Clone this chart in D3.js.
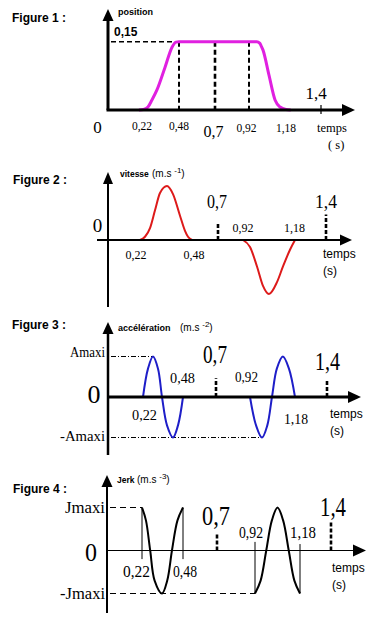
<!DOCTYPE html>
<html><head><meta charset="utf-8">
<script src="https://cdn.jsdelivr.net/npm/d3@7"></script>
<style>html,body{margin:0;padding:0;background:#fff;} svg{display:block;}</style>
</head><body><svg id="c" width="384" height="628"></svg>
<script>
// ---------- DATA ----------
const tickTimes  = [0, 0.22, 0.48, 0.7, 0.92, 1.18, 1.4];
const tickLabels = ["0", "0,22", "0,48", "0,7", "0,92", "1,18", "1,4"];
const figureTitles = ["Figure 1 :", "Figure 2 :", "Figure 3 :", "Figure 4 :"];
const axisNames = ["position", "vitesse", "accélération", "Jerk"];
const axisExponents = [null, "-1", "-2", "-3"];
const levelLabelsPos = ["0,15"];
const levelLabelsAcc = ["Amaxi", "-Amaxi"];
const levelLabelsJerk = ["Jmaxi", "-Jmaxi"];
const timeUnitLabels = ["temps", "(s)"];

// position (m)
const positionT = [0.20,0.23,0.262,0.29,0.325,0.382,0.431,0.459,0.48,0.7,0.92,0.975,0.995,1.005,1.018,1.06,1.103,1.138,1.18,1.21];
const positionV = [0,0.001,0.0066,0.022,0.044,0.094,0.138,0.149,0.15,0.15,0.15,0.15,0.147,0.141,0.132,0.077,0.022,0.0066,0.001,0];
// velocity (normalised to its maximum)
const velocityT = [0.22,0.245,0.27,0.295,0.32,0.355,0.385,0.42,0.445,0.46,0.48, 0.7, 0.92,0.955,0.99,1.02,1.05,1.09,1.12,1.155,1.18];
const velocityV = [0,0.06,0.22,0.55,0.87,1,0.85,0.45,0.17,0.06,0, null, 0,-0.13,-0.49,-0.85,-1,-0.78,-0.49,-0.18,0];
// acceleration (normalised to Amaxi)
const accelT = [0.22,0.2525,0.285,0.3175,0.3435,0.376,0.415,0.4475,0.48, 0.7, 0.92,0.955,0.989,1.02,1.047,1.075,1.11,1.145,1.18];
const accelV = [0,0.7,1,0.7,0,-0.7,-1,-0.7,0, null, 0,-0.7,-1,-0.7,0,0.7,1,0.7,0];
// jerk (normalised to Jmaxi)
const jerkT = [0.22,0.245,0.272,0.30,0.347,0.38,0.41,0.445,0.48, 0.7, 0.92,0.9525,0.985,1.0175,1.05,1.0825,1.115,1.1475,1.18];
const jerkV = [1,0.7,0,-0.7,-1,-0.7,0,0.7,1, null, -1,-0.7,0,0.7,1,0.7,0,-0.7,-1];
// jerk discontinuities (t, from, to)
const jerkStepT = [0.22, 0.48, 0.92, 1.18];
const jerkStepFrom = [1, 1, 0.2, 0.15];
const jerkStepTo = [-0.2, -0.2, -1, -1];

// ---------- HELPERS ----------
const SERIF = "'Liberation Serif','Times New Roman',serif";
const SANS = "'Liberation Sans',Arial,sans-serif";
const svg = d3.select("#c");
const zip = (T, V) => T.map((t, i) => ({t, v: V[i]}));

function txt(g, s, x, y, o = {}) {
  const t = g.append("text").attr("x", x).attr("y", y).text(s)
    .attr("font-family", o.family || SERIF).attr("font-size", o.size || 12)
    .attr("font-weight", o.weight || "normal").attr("fill", "#000")
    .attr("text-anchor", o.anchor || "start");
  if (o.width) t.attr("textLength", o.width).attr("lengthAdjust", "spacingAndGlyphs");
  return t;
}
function arrowUp(g, x, yTip, hw, h) {
  g.append("path").attr("d", `M${x},${yTip}L${x - hw},${yTip + h}L${x + hw},${yTip + h}Z`).attr("fill", "#000");
}
function arrowRight(g, xTip, y, hh, w) {
  g.append("path").attr("d", `M${xTip},${y}L${xTip - w},${y - hh}L${xTip - w},${y + hh}Z`).attr("fill", "#000");
}
function seg(g, x1, y1, x2, y2, w, dash) {
  const l = g.append("line").attr("x1", x1).attr("y1", y1).attr("x2", x2).attr("y2", y2)
    .attr("stroke", "#000").attr("stroke-width", w);
  if (dash) l.attr("stroke-dasharray", dash);
  return l;
}
function unitLabel(g, name, exp, x, y, nameSize, unitX) {
  txt(g, name, x, y, {family: SANS, weight: "bold", size: nameSize});
  if (exp) {
    const t = g.append("text").attr("x", unitX).attr("y", y).attr("font-family", SANS).attr("font-size", 10).attr("fill", "#000");
    t.append("tspan").text("(m.s ");
    t.append("tspan").text(exp).attr("font-size", 8).attr("dy", -4);
    t.append("tspan").text(")").attr("dy", 4).attr("font-size", 10);
  }
}
function tickText(g, x, i, lay) {
  const [dx, y, size, width] = lay[i];
  const o = {size, anchor: "middle"};
  if (width) o.width = width;
  return txt(g, tickLabels[i], x(tickTimes[i]) + dx, y, o);
}
function curve(g, data, x, y, color, w, c) {
  g.append("path").datum(data)
    .attr("d", d3.line().defined(d => d.v != null).x(d => x(d.t)).y(d => y(d.v)).curve(c))
    .attr("fill", "none").attr("stroke", color).attr("stroke-width", w).attr("stroke-linejoin", "round");
}

// ---------- FIGURE 1 : position ----------
{
  const g = svg.append("g");
  const x = d3.scaleLinear().domain(tickTimes).range([108, 142, 179, 215, 249, 286, 321]);
  const y = d3.scaleLinear().domain([0, 0.15]).range([110, 41.7]);
  txt(g, figureTitles[0], 12, 22, {family: SANS, weight: "bold", size: 12});
  unitLabel(g, axisNames[0], axisExponents[0], 118, 15, 9, 0);
  seg(g, x(0) + 3, y(0.15), x(0.48) - 2, y(0.15), 1.6, "5,3");
  [0.48, 0.7, 0.92].forEach((t, i) => seg(g, x(t), y(0.15), x(t), y(0), i === 1 ? 2.6 : 2, "5,3"));
  curve(g, zip(positionT, positionV), x, y, "#e020e0", 3, d3.curveMonotoneX);
  seg(g, x(0), y(0), x(0), 18, 3);
  arrowUp(g, x(0), 9, 5.5, 12);
  seg(g, x(0) - 1.5, y(0), 344, y(0), 3);
  arrowRight(g, 355, y(0), 6, 13);
  seg(g, x(1.4), y(0) - 5, x(1.4), y(0) + 4, 1.2);
  txt(g, levelLabelsPos[0], 114, 36, {family: SANS, weight: "bold", size: 12});
  const lay = [[-10.5, 133, 17], [0, 130, 11.5], [0, 130, 11.5], [-1.5, 137, 16], [-2.5, 132, 11.5], [0, 132, 11.5], [-5, 99, 17]];
  tickLabels.forEach((_, i) => tickText(g, x, i, lay));
  txt(g, timeUnitLabels[0], 317, 132, {size: 12.5});
  txt(g, "( s)", 328, 149, {size: 12.5});
}

// ---------- FIGURE 2 : vitesse ----------
{
  const g = svg.append("g");
  const x = d3.scaleLinear().domain(tickTimes).range([108, 140, 192, 218, 243, 295, 326]);
  const y = d3.scaleLinear().domain([-1, 1]).range([294, 186]);
  txt(g, figureTitles[1], 13, 184, {family: SANS, weight: "bold", size: 12});
  unitLabel(g, axisNames[1], axisExponents[1], 120, 177, 8.5, 152);
  curve(g, zip(velocityT, velocityV), x, y, "#dd1a1a", 2, d3.curveMonotoneX);
  seg(g, x(0), 307, x(0), 182, 2);
  arrowUp(g, x(0), 172, 5, 12);
  seg(g, 97, y(0), 342, y(0), 2);
  arrowRight(g, 352, y(0), 5.5, 12);
  seg(g, x(0.7), y(0), x(0.7), y(0.32), 2.6, "4,2");
  seg(g, x(1.4), y(0), x(1.4), y(0.47), 2.6, "4,2");
  const lay = [[-10.5, 232, 19], [-4, 259, 12], [2, 259, 12], [-1, 208, 19, 20], [0, 232, 12], [-0.5, 232, 12], [0, 208, 19, 22]];
  tickLabels.forEach((_, i) => tickText(g, x, i, lay));
  txt(g, timeUnitLabels[0], 323, 258, {family: SANS, size: 12});
  txt(g, timeUnitLabels[1], 323, 275, {family: SANS, size: 12});
}

// ---------- FIGURE 3 : accélération ----------
{
  const g = svg.append("g");
  const x = d3.scaleLinear().domain(tickTimes).range([108, 143, 183, 216, 250, 295, 327]);
  const y = d3.scaleLinear().domain([-1, 1]).range([437.5, 356.5]);
  txt(g, figureTitles[2], 12, 329, {family: SANS, weight: "bold", size: 12});
  unitLabel(g, axisNames[2], axisExponents[2], 118, 331, 9, 180);
  seg(g, x(0) + 3, y(1), x(0.285), y(1), 1.1, "5,2,1,2");
  seg(g, x(0) + 3, y(-1), x(0.989), y(-1), 1.1, "5,2,1,2");
  curve(g, zip(accelT, accelV), x, y, "#1e1ec8", 2, d3.curveCatmullRom);
  seg(g, x(0), 455, x(0), 333, 2.5);
  arrowUp(g, x(0), 322, 5.5, 12);
  seg(g, x(0), y(0), 348, y(0), 3);
  arrowRight(g, 361, y(0), 6, 13);
  seg(g, x(0.7), y(0), x(0.7), y(0.46), 2.6, "4,2");
  seg(g, x(1.4), y(0), x(1.4), y(0.42), 2.6, "4,2");
  txt(g, levelLabelsAcc[0], 70, 357, {size: 15, width: 35});
  txt(g, levelLabelsAcc[1], 60, 441, {size: 15, width: 45});
  const lay = [[-14, 403, 25, 13], [1.5, 420, 15, 25], [-0.5, 383, 15, 25], [-1, 363, 25, 24], [-3.5, 382, 15, 23], [1, 424, 15, 24], [0.5, 370, 26, 25]];
  tickLabels.forEach((_, i) => tickText(g, x, i, lay));
  txt(g, timeUnitLabels[0], 330, 418, {family: SANS, size: 12});
  txt(g, timeUnitLabels[1], 330, 435, {family: SANS, size: 12});
}

// ---------- FIGURE 4 : Jerk ----------
{
  const g = svg.append("g");
  const x = d3.scaleLinear().domain(tickTimes).range([107, 142, 183, 217, 255, 300, 331]);
  const y = d3.scaleLinear().domain([-1, 1]).range([593.5, 507.5]);
  txt(g, figureTitles[3], 13, 493, {family: SANS, weight: "bold", size: 12});
  unitLabel(g, axisNames[3], axisExponents[3], 117, 483, 8.5, 137);
  seg(g, x(0) + 3, y(1), x(0.22), y(1), 1, "6,4");
  seg(g, x(0) + 3, y(-1), x(0.92), y(-1), 1, "6,4");
  jerkStepT.forEach((t, i) => seg(g, x(t), y(jerkStepFrom[i]), x(t), y(jerkStepTo[i]), 1));
  curve(g, zip(jerkT, jerkV), x, y, "#000", 2, d3.curveCatmullRom);
  seg(g, x(0), 613, x(0), 485, 2);
  arrowUp(g, x(0), 475, 5.5, 12);
  seg(g, x(0), y(0), 354, y(0), 1.2);
  arrowRight(g, 366, y(0), 6, 13);
  seg(g, x(0.7), y(0), x(0.7), y(0.40), 2.6, "4,2");
  seg(g, x(1.4), y(0), x(1.4), y(0.66), 2.6, "4,2");
  txt(g, levelLabelsJerk[0], 65, 513, {size: 17, width: 40});
  txt(g, levelLabelsJerk[1], 60, 599, {size: 17, width: 45});
  const lay = [[-16, 561, 25, 12], [-5.5, 577, 16, 27], [2, 577, 16, 24], [-1, 525, 27, 28], [-4, 538, 16, 24], [3, 538, 16, 26], [2, 516, 28, 26]];
  tickLabels.forEach((_, i) => tickText(g, x, i, lay));
  txt(g, timeUnitLabels[0], 332, 572, {family: SANS, size: 12});
  txt(g, timeUnitLabels[1], 332, 589, {family: SANS, size: 12});
}
</script></body></html>
